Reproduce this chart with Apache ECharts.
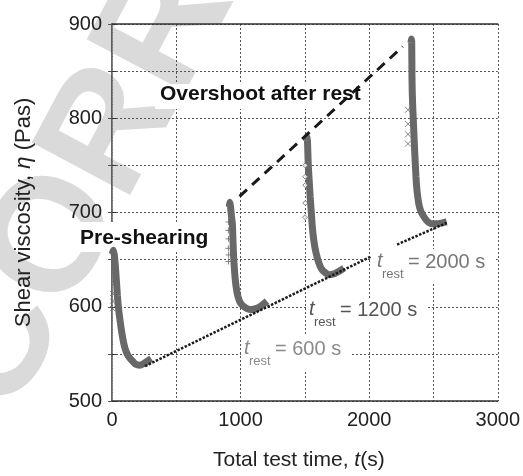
<!DOCTYPE html>
<html><head><meta charset="utf-8">
<script src="https://cdn.jsdelivr.net/npm/echarts@6/dist/echarts.min.js"></script>
<style>html,body{margin:0;padding:0;background:#fff}#c{width:523px;height:476px}</style>
</head><body><div id="c"></div>
<script>
// ---- data ----
const preShearing = [[3,656],[10,660],[18,655],[25,645],[33,630],[42,612],[51,598],[63,585],[77,572],[90,562],[103,555],[125,548],[155,543],[185,539],[215,538],[250,540],[283,543],[305,545]];
const rest600 = [[912,706],[916,711],[921,707],[930,695],[936,688],[941,670],[946,653],[953,638],[961,626],[970,617],[979,611],[995,605],[1018,601],[1050,598],[1083,597],[1120,598],[1160,601],[1205,606]];
const rest1200 = [[1513,776],[1516,780],[1520,776],[1526,752],[1533,735],[1541,717],[1550,700],[1559,683],[1570,670],[1585,658],[1605,648],[1630,640],[1660,636],[1690,634],[1730,635],[1770,638],[1804,641]];
const rest2000 = [[2326,880],[2328,884],[2331,880],[2333,842],[2338,815],[2346,790],[2355,762],[2364,738],[2373,722],[2385,710],[2400,702],[2423,696],[2450,691],[2487,688],[2530,688],[2570,689],[2603,690]];
const preOutliers = [[5,614],[5,606],[5,598]];
const rest600Outliers = [[906,690],[905,681],[906,672],[905,662],[907,655],[906,648]];
const rest1200Outliers = [[1503,750],[1503,738],[1503,729],[1503,710],[1501,695]];
const rest2000Outliers = [[2302,809],[2302,794],[2302,783],[2302,773]];
const overshootLine = [[992,717],[2261,876]];
const restLine1 = [[257,537],[2010,653]];
const restLine2 = [[2217,666],[2603,689]];
const xTicks = [0,1000,2000,3000];
const yTicks = [500,600,700,800,900];
const restLabels = ['= 600 s','= 1200 s','= 2000 s'];

const FONT = "'Liberation Sans', Arial, Helvetica, sans-serif";
const chart = echarts.init(document.getElementById('c'), null, {renderer:'canvas'});
const gridLine = {show:true, lineStyle:{color:'#555', width:1, type:[2,2]}};
const crossPath = 'path://M0,0L10,10M10,0L0,10';
const plusPath = 'path://M5,0L5,10M0,5L10,5';

function curve(data){
  return {type:'line', data:data, showSymbol:false, smooth:0.3, z:3,
    lineStyle:{color:'#686868', width:7}, silent:true};
}
function refLine(data, type, width){
  return {type:'line', data:data, showSymbol:false, z:4,
    lineStyle:{color:'#1a1a1a', width:width, type:type}, silent:true};
}
function marks(data, sym, size){
  return {type:'scatter', data:data, symbol:sym, symbolSize:size, z:3,
    itemStyle:{color:sym==='diamond'?'#fff':'none', borderColor:'#666', borderWidth:1}, silent:true};
}

function sub(x, y, color, tail){
  return [
    {type:'text', left:x, top:y-11, z:100, style:{text:'t', font:'italic 20px '+FONT, fill:color}},
    {type:'text', left:x+5, top:y+6, z:100, style:{text:'rest', font:'13px '+FONT, fill:color}},
    {type:'text', left:x+31, top:y-10, z:100, style:{text:tail, font:'20px '+FONT, fill:color}}
  ];
}

const option = {
  animation:false,
  backgroundColor:'#fff',
  textStyle:{fontFamily:FONT},
  grid:{left:112, right:23, top:24, bottom:67},
  xAxis:[{
    type:'value', min:0, max:3000, interval:500,
    axisLine:{lineStyle:{color:'#333', width:1.5}},
    axisTick:{show:false},
    axisLabel:{color:'#222', fontSize:20, fontFamily:FONT, margin:9,
      formatter:v => xTicks.indexOf(v) >= 0 ? String(v) : ''},
    splitLine:gridLine,
    name:'{a|Total test time, }{i|t}{a|(s)}', nameLocation:'middle', nameGap:49,
    nameTextStyle:{padding:[0,12,0,0], rich:{a:{fontSize:21, color:'#222', fontFamily:FONT}, i:{fontSize:21, color:'#222', fontStyle:'italic', fontFamily:FONT}}}
  },{
    type:'value', position:'top', min:0, max:3000, interval:500,
    axisLine:{show:true, lineStyle:{color:'#333', width:1.5}},
    axisTick:{show:false}, axisLabel:{show:false}, splitLine:{show:false}
  }],
  yAxis:[{
    type:'value', min:500, max:900, interval:50,
    axisLine:{show:true, lineStyle:{color:'#333', width:1.5}},
    axisTick:{show:true, inside:true, length:4, lineStyle:{color:'#333'}},
    axisLabel:{color:'#222', fontSize:20, fontFamily:FONT, margin:10,
      formatter:v => yTicks.indexOf(v) >= 0 ? String(v) : ''},
    splitLine:gridLine,
    name:'{a|Shear viscosity, }{i|η}{a| (Pas)}', nameLocation:'middle', nameGap:77,
    nameTextStyle:{rich:{a:{fontSize:22, color:'#222', fontFamily:FONT}, i:{fontSize:22, color:'#222', fontStyle:'italic', fontFamily:FONT}}}
  },{
    type:'value', position:'right', min:500, max:900, interval:50,
    axisLine:{show:true, lineStyle:{color:'#888', width:1, type:[2,1]}},
    axisTick:{show:true, inside:true, length:4, lineStyle:{color:'#555'}},
    axisLabel:{show:false}, splitLine:{show:false}
  }],
  series:[
    curve(preShearing), curve(rest600), curve(rest1200), curve(rest2000),
    marks(preOutliers, crossPath, 5),
    marks(rest600Outliers, plusPath, 6),
    marks(rest1200Outliers, 'diamond', 5),
    marks(rest2000Outliers, crossPath, 6),
    refLine(overshootLine, [10,7], 3),
    refLine(restLine1, [2.5,1.5], 2.5),
    refLine(restLine2, [2.5,1.5], 2.5)
  ],
  graphic:[
    {type:'text', x:-100, y:360, rotation:62*Math.PI/180, z:-1, silent:true,
      style:{text:'CORRECTED', font:'bold 162px '+FONT, fill:'#dadada'}},
    {type:'rect', z:1, shape:{x:155, y:84, width:214, height:25}, style:{fill:'#fff'}},
    {type:'rect', z:1, shape:{x:76, y:222, width:140, height:30}, style:{fill:'#fff'}},
    {type:'rect', z:1, shape:{x:372, y:249, width:122, height:35}, style:{fill:'#fff'}},
    {type:'rect', z:1, shape:{x:306, y:300, width:121, height:32}, style:{fill:'#fff'}},
    {type:'rect', z:1, shape:{x:241, y:336, width:109, height:34}, style:{fill:'#fff'}},
    {type:'text', left:160, top:84, z:100, style:{text:'Overshoot after rest', font:'bold 21px '+FONT, fill:'#111'}},
    {type:'text', left:80, top:228, z:100, style:{text:'Pre-shearing', font:'bold 21px '+FONT, fill:'#111'}}
  ].concat(sub(244, 349, '#8a8a8a', restLabels[0]))
   .concat(sub(309, 310, '#555', restLabels[1]))
   .concat(sub(377, 262, '#777', restLabels[2]))
};
chart.setOption(option);
</script>
</body></html>
